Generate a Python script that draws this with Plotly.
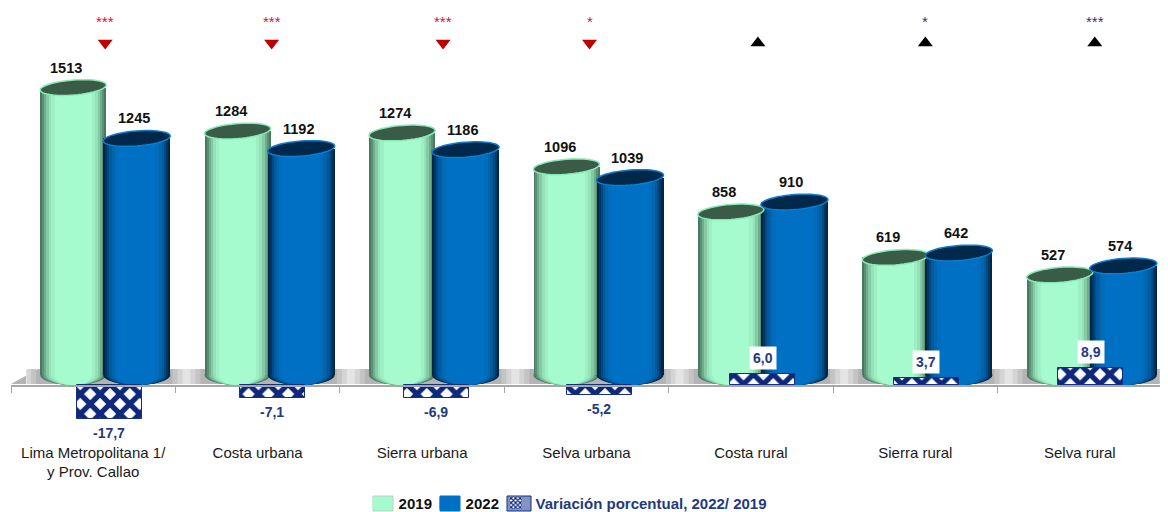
import math
import plotly.graph_objects as go

categories = ["Lima Metropolitana 1/<br>y Prov. Callao", "Costa urbana", "Sierra urbana", "Selva urbana",
              "Costa rural", "Sierra rural", "Selva rural"]
values_2019 = [1513, 1284, 1274, 1096, 858, 619, 527]
values_2022 = [1245, 1192, 1186, 1039, 910, 642, 574]
variation = [-17.7, -7.1, -6.9, -5.2, 6.0, 3.7, 8.9]
variation_labels = ["-17,7", "-7,1", "-6,9", "-5,2", "6,0", "3,7", "8,9"]
stars = ["***", "***", "***", "*", "", "*", "***"]
directions = ["down", "down", "down", "down", "up", "up", "up"]
marker_shift_px = [12, 14, 21, 3, 7, 10, 15]
pattern_shift_px = [16, 14.4, 14, 12.6, 12, 11, 11]

BODY = 8             # the page's own margin around the figure
W, H = 1168 - BODY, 512 - BODY
ML, MR = 11 - BODY, 6
PLOT_W = W - ML - MR
CAT_PX = PLOT_W / 7
Y_PX = 0.19          # px per unit of the value axis
Y2_PX = 1.9          # px per unit of the variation axis
Y0 = 375 - BODY      # pixel row of value 0
Y20 = 385 - BODY     # pixel row of variation 0
AXIS_ROW = 386 - BODY

ramp_2019 = ["#4a7860", "#5a9074", "#6eae8c", "#84caa5", "#94e2b8", "#9eefc4", "#a6fbce"]
ramp_2022 = ["#00264a", "#003762", "#004a84", "#005a9e", "#0064ae", "#006cba", "#0070c4"]
fracs = [1.0, 0.94, 0.88, 0.82, 0.74, 0.66, 0.56]

series = [
    ("2019", values_2019, -53 / CAT_PX, 66 / CAT_PX, ramp_2019, "#3a5c47", "#86ebb8", -7, "legend"),
    ("2022", values_2022, 10 / CAT_PX, 67 / CAT_PX, ramp_2022, "#00284a", "#0b7fcf", -3, "legend2"),
]

fig = go.Figure()


def ellipse_path(cx, y_val, half_w, half_h_px, tilt_px):
    pts = []
    for k in range(48):
        t = 2 * math.pi * k / 48
        c, s = math.cos(t), math.sin(t)
        pts.append((cx + half_w * c, y_val + (half_h_px * s + tilt_px * c) / Y_PX))
    return "M" + "L".join(f"{a:.4f},{b:.2f}" for a, b in pts) + "Z"


def fx(px):
    return (px - BODY - ML) / PLOT_W


def fy(row):
    return (H - (row - BODY)) / H


shapes = []

# floor of the 3D chart
shapes.append(dict(type="path", xref="paper", yref="paper", layer="below", line_width=0, fillcolor="#b4b4b4",
                   path=f"M{fx(11)},{fy(384)} L{fx(38)},{fy(369)} L{fx(1168)},{fy(369)} L{fx(1160)},{fy(384)} Z"))
for half_px, col in [(14, "#c4c4c4"), (9, "#d4d4d4"), (4, "#e4e4e4")]:
    for i in range(8):
        cx = 22 + i * CAT_PX
        shapes.append(dict(type="rect", xref="paper", yref="paper", layer="below", line_width=0, fillcolor=col,
                           x0=fx(max(cx - half_px, 27)), x1=fx(min(cx + half_px, 1164)),
                           y0=fy(384), y1=fy(369)))

# enlarged legend keys sit behind the legend's own keys
for x0, x1, col, edge in [(373, 393, "#a6fbce", "#c8c8c8"), (440, 460, "#0070c4", "#0070c4"),
                          (507, 531, "#8492c4", "#14307c")]:
    shapes.append(dict(type="rect", xref="paper", yref="paper", layer="below", fillcolor=col,
                       line=dict(color=edge, width=1), x0=fx(x0), x1=fx(x1), y0=fy(511), y1=fy(496)))

for name, vals, off, width, ramp, cap_fill, cap_line, lab_shift, leg in series:
    for frac, col in zip(fracs, ramp):
        w = width * frac
        o = off + (width - w) / 2
        is_key = frac == fracs[-1]
        fig.add_trace(go.Bar(
            x=categories, y=vals, width=w, offset=o, marker_color=col, marker_line_width=0,
            name=f"<b>{name}</b>", showlegend=is_key, legend=leg, hoverinfo="skip", xaxis="x", yaxis="y"))
        for i in range(7):
            shapes.append(dict(type="path", xref="x2", yref="y", layer="below", line_width=0, fillcolor=col,
                               path=ellipse_path(i + off + width / 2, 0, w / 2, 10, 0)))
    for i, v in enumerate(vals):
        shapes.append(dict(type="path", xref="x2", yref="y", layer="above", fillcolor=cap_fill,
                           line=dict(color=cap_line, width=1.5),
                           path=ellipse_path(i + off + width / 2, v, width / 2, 7.5, 2.5)))

pat_offsets = [(s - 32.5) / CAT_PX for s in pattern_shift_px]
fig.add_trace(go.Bar(
    x=categories, y=variation, width=65 / CAT_PX, offset=pat_offsets, yaxis="y2", xaxis="x",
    showlegend=False,
    marker=dict(color="#ffffff", line=dict(color="#14307c", width=1),
                pattern=dict(shape="x", size=14, solidity=0.62, fgcolor="#10287a", bgcolor="#ffffff", fgopacity=1)),
    hoverinfo="skip"))
fig.add_trace(go.Bar(
    x=categories, y=[None] * 7, yaxis="y2", xaxis="x", legend="legend3",
    name='<b><span style="color:#1f3a7d">Variación porcentual, 2022/ 2019</span></b>',
    marker=dict(color="#ffffff", line=dict(color="#14307c", width=0),
                pattern=dict(shape="x", size=4, solidity=0.6, fgcolor="#10287a", bgcolor="#ffffff", fgopacity=1)),
    hoverinfo="skip"))

tri_x = [i + s / CAT_PX for i, s in enumerate(marker_shift_px)]
fig.add_trace(go.Scatter(
    x=tri_x, y=[(Y0 - (43 - BODY)) / Y_PX] * 7, mode="markers", xaxis="x2", yaxis="y", showlegend=False,
    hoverinfo="skip",
    marker=dict(size=13,
                symbol=["triangle-down" if d == "down" else "triangle-up" for d in directions],
                color=["#c00000" if d == "down" else "#000000" for d in directions])))

ann = []
BF = "Liberation Sans, Arial"
for name, vals, off, width, ramp, cap_fill, cap_line, lab_shift, leg in series:
    for i, v in enumerate(vals):
        ann.append(dict(x=i + off + width / 2, y=v, xref="x2", yref="y", text=f"<b>{v}</b>", showarrow=False,
                        xanchor="center", yanchor="middle", xshift=lab_shift, yshift=20,
                        font=dict(family=BF, size=14.5, color="#111111")))
for i, (v, lab) in enumerate(zip(variation, variation_labels)):
    ann.append(dict(x=i + pattern_shift_px[i] / CAT_PX, y=v, xref="x2", yref="y2", text=f"<b>{lab}</b>",
                    showarrow=False, xanchor="center", yanchor="bottom" if v > 0 else "top",
                    yshift=4 if v > 0 else -2, bgcolor="#ffffff", borderpad=3,
                    font=dict(family=BF, size=14, color="#1f3a7d")))
for i, (s, d) in enumerate(zip(stars, directions)):
    if s:
        ann.append(dict(x=tri_x[i], y=fy(21), xref="x2", yref="paper", text=s, showarrow=False,
                        xanchor="center", yanchor="middle",
                        font=dict(family="Liberation Sans", size=15,
                                  color="#d8113c" if d == "down" else "#1f3a7d")))


def legend_at(key_center):
    return dict(orientation="h", x=fx(key_center - 20.4), y=fy(503), xanchor="left", yanchor="middle",
                bgcolor="rgba(0,0,0,0)", font=dict(family="Liberation Sans", size=15, color="#111111"),
                itemclick=False, itemdoubleclick=False)


fig.update_layout(
    width=W, height=H, autosize=False, margin=dict(l=ML, r=MR, t=0, b=0, autoexpand=False),
    paper_bgcolor="#ffffff", plot_bgcolor="rgba(0,0,0,0)",
    barmode="overlay", shapes=shapes, annotations=ann, bargap=0,
    xaxis=dict(type="category", categoryorder="array", categoryarray=categories, range=[-0.5, 6.5],
               anchor="free", position=(H - AXIS_ROW) / H, showline=True, linecolor="#a6a6a6", linewidth=1.5,
               ticks="outside", ticklen=6, tickcolor="#a6a6a6", tickson="boundaries", showgrid=False,
               ticklabelstandoff=53, tickangle=0,
               tickfont=dict(family=BF, size=15, color="#1a1a1a"), zeroline=False),
    xaxis2=dict(range=[-0.5, 6.5], overlaying="x", visible=False, anchor="y"),
    yaxis=dict(range=[-(H - Y0) / Y_PX, Y0 / Y_PX], visible=False, fixedrange=True),
    yaxis2=dict(range=[-(H - Y20) / Y2_PX, Y20 / Y2_PX], overlaying="y", visible=False),
    legend=legend_at(379), legend2=legend_at(446), legend3=legend_at(516),
    showlegend=True,
)

fig.write_html("out.html")
